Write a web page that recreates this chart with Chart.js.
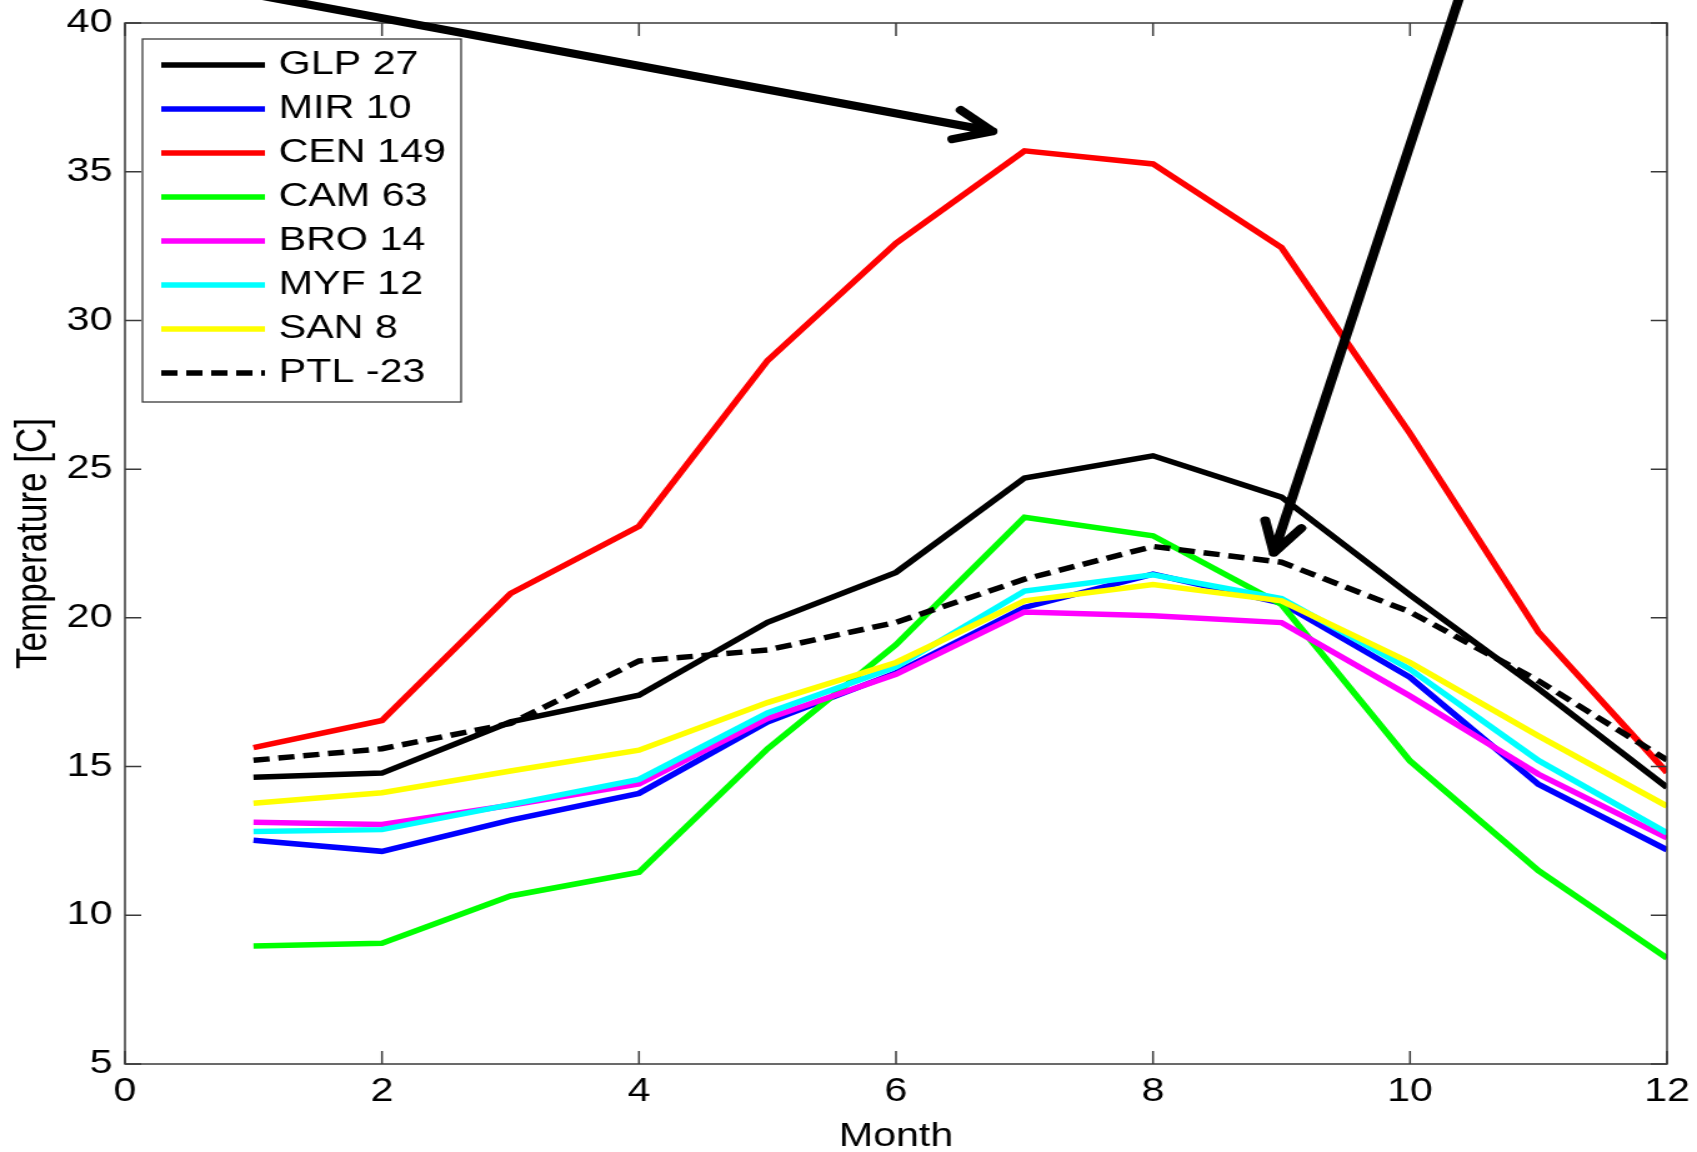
<!DOCTYPE html>
<html>
<head>
<meta charset="utf-8">
<title>Monthly temperature</title>
<script src="https://cdn.jsdelivr.net/npm/chart.js@4.4.1/dist/chart.umd.min.js"></script>
<style>
  html, body { margin: 0; padding: 0; overflow: hidden; background: #fff; }
  /* the original figure is stretched sideways, so the whole chart is too */
  #wrap { width: 1358px; height: 1152px; transform: scaleX(1.24963); transform-origin: 0 0; }
</style>
</head>
<body>
<div id="wrap"><canvas id="tempChart"></canvas></div>
<script>
// month numbers on the x axis
var months = [1, 2, 3, 4, 5, 6, 7, 8, 9, 10, 11, 12];

// station names (with altitude) as in the legend
var stationNames = ['GLP 27', 'MIR 10', 'CEN 149', 'CAM 63', 'BRO 14', 'MYF 12', 'SAN 8', 'PTL -23'];

// mean temperature per month [C]
var glp = [14.64, 14.78, 16.5, 17.4, 19.85, 21.53, 24.7, 25.45, 24.06, 20.77, 17.62, 14.3];
var mir = [12.52, 12.15, 13.2, 14.1, 16.5, 18.15, 20.35, 21.47, 20.5, 18.0, 14.4, 12.2];
var cen = [15.64, 16.55, 20.82, 23.08, 28.65, 32.6, 35.7, 35.26, 32.45, 26.2, 19.52, 14.8];
var cam = [8.97, 9.06, 10.65, 11.45, 15.6, 19.1, 23.38, 22.76, 20.45, 15.19, 11.5, 8.56];
var bro = [13.13, 13.05, 13.7, 14.42, 16.62, 18.1, 20.2, 20.07, 19.84, 17.37, 14.74, 12.6];
var myf = [12.82, 12.88, 13.72, 14.57, 16.8, 18.35, 20.9, 21.45, 20.65, 18.27, 15.2, 12.77];
var san = [13.77, 14.12, 14.85, 15.55, 17.15, 18.5, 20.57, 21.12, 20.57, 18.5, 16.03, 13.67];
var ptl = [15.21, 15.6, 16.45, 18.55, 18.92, 19.85, 21.3, 22.4, 21.87, 20.2, 17.88, 15.22];

// tick values
var xTicks = [0, 2, 4, 6, 8, 10, 12];
var yTicks = [5, 10, 15, 20, 25, 30, 35, 40];

// the two annotation arrows, [start, tip] in data units
var arrows = [
    [[1.03, 40.94], [6.75, 36.36]],
    [[10.39, 40.94], [8.94, 22.19]]
];

var seriesValues = [glp, mir, cen, cam, bro, myf, san, ptl];
var lineColors = ['#000000', '#0000ff', '#ff0000', '#00ff00', '#ff00ff', '#00ffff', '#ffff00', '#000000'];
var FONT = '"Liberation Sans", Arial, sans-serif';

function toPoints(values) {
    return months.map(function (m, i) { return { x: m, y: values[i] }; });
}

var datasets = seriesValues.map(function (values, i) {
    return {
        label: stationNames[i],
        data: toPoints(values),
        borderColor: lineColors[i],
        borderWidth: 5.5,
        borderDash: i === 7 ? [13, 7] : [],
        pointRadius: 0,
        tension: 0,
        fill: false,
        order: 7 - i // later stations drawn on top, like matlab
    };
});

// box round the axes with inward ticks on all four sides
var framePlugin = {
    id: 'frame',
    afterDatasetsDraw: function (chart) {
        var ctx = chart.ctx, a = chart.chartArea;
        var xs = chart.scales.x, ys = chart.scales.y;
        var len = 13;
        ctx.save();
        ctx.strokeStyle = '#3a3a3a';
        ctx.lineWidth = 1.5;
        ctx.strokeRect(a.left, a.top, a.right - a.left, a.bottom - a.top);
        ctx.beginPath();
        xTicks.forEach(function (v) {
            var px = xs.getPixelForValue(v);
            ctx.moveTo(px, a.bottom); ctx.lineTo(px, a.bottom - len);
            ctx.moveTo(px, a.top); ctx.lineTo(px, a.top + len);
        });
        yTicks.forEach(function (v) {
            var py = ys.getPixelForValue(v);
            ctx.moveTo(a.left, py); ctx.lineTo(a.left + len, py);
            ctx.moveTo(a.right, py); ctx.lineTo(a.right - len, py);
        });
        ctx.stroke();
        ctx.restore();
    }
};

// legend box in the top left corner of the plot
var legendPlugin = {
    id: 'boxLegend',
    afterDatasetsDraw: function (chart) {
        var ctx = chart.ctx, a = chart.chartArea;
        var bx = a.left + 14, by = a.top + 16, bw = 255, bh = 363;
        ctx.save();
        ctx.fillStyle = '#fff';
        ctx.fillRect(bx, by, bw, bh);
        ctx.strokeStyle = '#3a3a3a';
        ctx.lineWidth = 1.3;
        ctx.strokeRect(bx, by, bw, bh);
        ctx.font = '33px ' + FONT;
        ctx.textBaseline = 'middle';
        chart.data.datasets.forEach(function (ds, i) {
            var y = by + 26 + i * 44;
            ctx.beginPath();
            ctx.setLineDash(ds.borderDash);
            ctx.strokeStyle = ds.borderColor;
            ctx.lineWidth = 5.5;
            ctx.moveTo(bx + 15, y);
            ctx.lineTo(bx + 98, y);
            ctx.stroke();
            ctx.setLineDash([]);
            ctx.fillStyle = '#000';
            ctx.fillText(ds.label, bx + 109, y);
        });
        ctx.restore();
    }
};

// hand drawn arrows pointing at the curves
var arrowPlugin = {
    id: 'arrows',
    afterDraw: function (chart) {
        var ctx = chart.ctx;
        var xs = chart.scales.x, ys = chart.scales.y;
        ctx.save();
        ctx.strokeStyle = '#000';
        ctx.lineWidth = 8;
        ctx.lineCap = 'round';
        ctx.lineJoin = 'round';
        arrows.forEach(function (ar) {
            var x0 = xs.getPixelForValue(ar[0][0]), y0 = ys.getPixelForValue(ar[0][1]);
            var x1 = xs.getPixelForValue(ar[1][0]), y1 = ys.getPixelForValue(ar[1][1]);
            var ang = Math.atan2(y0 - y1, x0 - x1);
            var head = 33, spread = 0.47;
            ctx.beginPath();
            ctx.moveTo(x0, y0);
            ctx.lineTo(x1, y1);
            ctx.moveTo(x1 + head * Math.cos(ang - spread), y1 + head * Math.sin(ang - spread));
            ctx.lineTo(x1, y1);
            ctx.lineTo(x1 + head * Math.cos(ang + spread), y1 + head * Math.sin(ang + spread));
            ctx.stroke();
        });
        ctx.restore();
    }
};

var ctx = document.getElementById('tempChart').getContext('2d');
var tempChart = new Chart(ctx, {
    type: 'line',
    data: { datasets: datasets },
    plugins: [framePlugin, legendPlugin, arrowPlugin],
    options: {
        responsive: true,
        maintainAspectRatio: false,
        animation: false,
        layout: { padding: { left: 0, right: 24, top: 23, bottom: 0 } },
        plugins: {
            legend: { display: false },
            tooltip: { enabled: false }
        },
        scales: {
            x: {
                type: 'linear',
                min: 0,
                max: 12,
                grid: { display: false, drawTicks: true, tickLength: 8 },
                border: { display: false },
                ticks: { stepSize: 2, padding: 0, color: '#000', font: { family: FONT, size: 33 } },
                title: { display: true, text: 'Month', color: '#000', padding: { top: 0, bottom: -5 }, font: { family: FONT, size: 33 } },
                afterFit: function (scale) { scale.height = 88; }
            },
            y: {
                min: 5,
                max: 40,
                grid: { display: false, drawTicks: true, tickLength: 10 },
                border: { display: false },
                ticks: { stepSize: 5, padding: 0, color: '#000', font: { family: FONT, size: 33 } },
                title: { display: true, text: 'Temperature [C]', color: '#000', padding: { top: 6.5, bottom: 0 }, font: { family: FONT, size: 35 } },
                afterFit: function (scale) { scale.width = 100; }
            }
        }
    }
});
</script>
</body>
</html>
